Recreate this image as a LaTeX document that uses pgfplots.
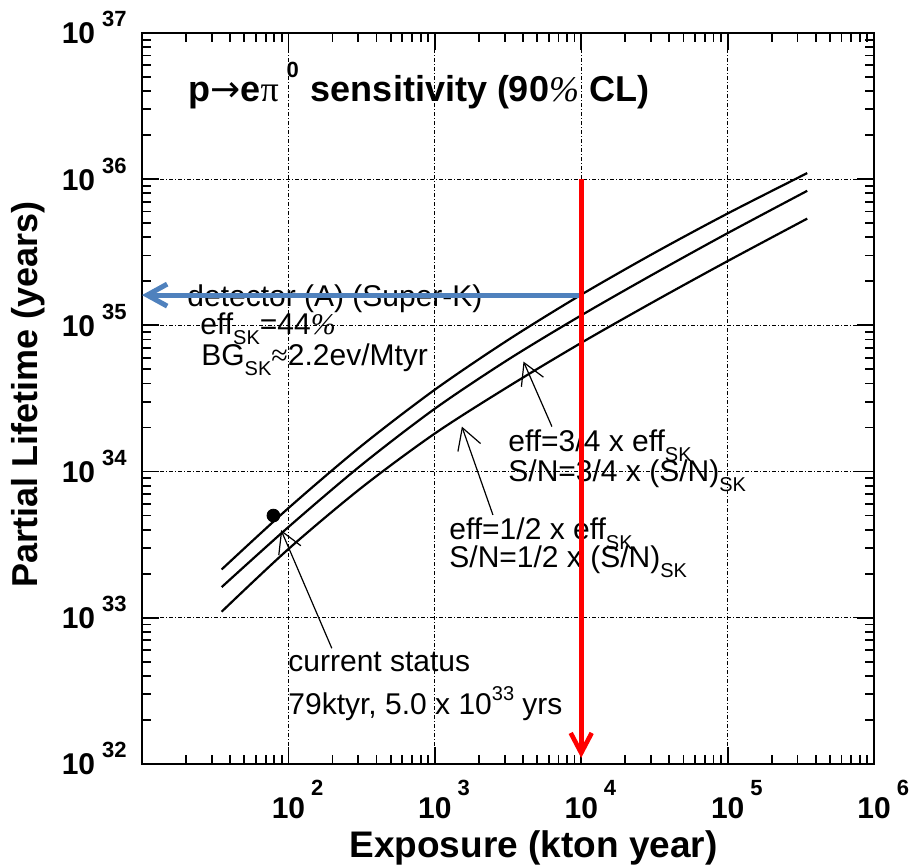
\documentclass[border=0pt]{standalone}
\usepackage{pgfplots}
\pgfplotsset{compat=1.18}
\usepackage{fontspec}
\setmainfont{Liberation Sans}
\newfontfamily\symf{Liberation Serif}
\newfontfamily\arrf{DejaVu Sans}
\usetikzlibrary{arrows.meta}
\definecolor{sblue}{RGB}{79,129,189}
\newcommand\ytl[1]{\fontsize{15}{15}\selectfont\bfseries 10\hspace{3.5pt}\raisebox{8.5pt}{\fontsize{11}{11}\selectfont #1}}
\newcommand\xtl[1]{\fontsize{15}{15}\selectfont\bfseries 10\hspace{3pt}\raisebox{11.5pt}{\fontsize{11}{11}\selectfont #1}}
\newcommand\sk{\raisebox{-5pt}{\fontsize{10}{10}\selectfont SK}}
\newcommand\pc{{\symf\itshape\%}}
\tikzset{ann/.style={black, line width=0.6pt, -{Straight Barb[length=10.5pt,width=12pt]}}}
\begin{document}
\begin{tikzpicture}
\begin{axis}[
  xmode=log, ymode=log,
  scale only axis, width=366pt, height=365.5pt,
  xmin=10, xmax=1e6, ymin=1e32, ymax=1e37,
  axis line style={line width=1.3pt},
  every tick/.style={black, line width=0.9pt},
  major tick length=8.5pt, minor tick length=4.5pt,
  xtick={10,100,1000,10000,100000,1000000},
  xticklabels={{},{\xtl{2}},{\xtl{3}},{\xtl{4}},{\xtl{5}},{\xtl{6}}},
  ytick={1e32,1e33,1e34,1e35,1e36,1e37},
  yticklabels={{\ytl{32}},{\ytl{33}},{\ytl{34}},{\ytl{35}},{\ytl{36}},{\ytl{37}}},
  xticklabel style={anchor=north, inner sep=0pt, xshift=4.6pt, yshift=-8pt},
  yticklabel style={anchor=east, inner sep=0pt, xshift=-7.5pt, yshift=2.5pt},
  grid=major,
  major grid style={black, line width=0.5pt, dash pattern=on 2pt off 1pt on 0.5pt off 1pt},
  clip=false,
]
\coordinate (SW) at (rel axis cs:0,0);
\coordinate (NE) at (rel axis cs:1,1);
% curves
\addplot[black, line width=1.1pt, smooth] coordinates {
 (35,2.14e33) (100,5.62e33) (316,1.50e34) (1000,3.63e34) (3162,7.94e34) (10000,1.62e35) (31623,3.13e35) (100000,5.82e35) (350000,1.10e36)};
\addplot[black, line width=1.1pt, smooth] coordinates {
 (35,1.62e33) (100,4.17e33) (316,1.11e34) (1000,2.69e34) (3162,5.82e34) (10000,1.17e35) (31623,2.26e35) (100000,4.27e35) (350000,8.32e35)};
\addplot[black, line width=1.1pt, smooth] coordinates {
 (35,1.10e33) (100,2.95e33) (316,7.76e33) (1000,1.82e34) (3162,3.80e34) (10000,7.59e34) (31623,1.46e35) (100000,2.75e35) (350000,5.37e35)};
% current status point
\addplot[only marks, mark=*, mark size=3.2pt, black] coordinates {(79,5.0e33)};
% texts
\node[anchor=base west, inner sep=0pt] at (rel axis cs:0.0628,0.9056)
  {\fontsize{18}{20}\selectfont\bfseries p{\arrf\mdseries →}e{\symf\mdseries π}\hspace{4pt}\raisebox{12pt}{\fontsize{11}{11}\selectfont 0}\hspace{6pt}sensitivity (90{\symf\mdseries\itshape\%} CL)};
\node[anchor=base west, inner sep=0pt] at (rel axis cs:0.0615,0.6252) {\fontsize{15}{15}\selectfont detector (A) (Super-K)};
\node[anchor=base west, inner sep=0pt] at (rel axis cs:0.0792,0.5869) {\fontsize{15}{15}\selectfont eff\sk=44\pc};
\node[anchor=base west, inner sep=0pt] at (rel axis cs:0.0806,0.5445) {\fontsize{15}{15}\selectfont BG\sk{\symf≈}2.2ev/Mtyr};
\node[anchor=base west, inner sep=0pt] at (rel axis cs:0.5,0.4268) {\fontsize{15}{15}\selectfont eff=3/4 x eff\sk};
\node[anchor=base west, inner sep=0pt] at (rel axis cs:0.5,0.3858) {\fontsize{15}{15}\selectfont S/N=3/4 x (S/N)\sk};
\node[anchor=base west, inner sep=0pt] at (rel axis cs:0.4194,0.3064) {\fontsize{15}{15}\selectfont eff=1/2 x eff\sk};
\node[anchor=base west, inner sep=0pt] at (rel axis cs:0.4194,0.2681) {\fontsize{15}{15}\selectfont S/N=1/2 x (S/N)\sk};
\node[anchor=base west, inner sep=0pt] at (rel axis cs:0.1995,0.1259) {\fontsize{15}{15}\selectfont current status};
\node[anchor=base west, inner sep=0pt] at (rel axis cs:0.1995,0.0670) {\fontsize{15}{15}\selectfont 79ktyr, 5.0 x 10\raisebox{7pt}{\fontsize{10}{10}\selectfont 33} yrs};
% axis labels
\node[anchor=base, inner sep=0pt] at (rel axis cs:0.5348,-0.1286) {\fontsize{18.5}{20}\selectfont\bfseries Exposure (kton year)};
\node[anchor=base, inner sep=0pt, rotate=90] at (rel axis cs:-0.1421,0.506) {\fontsize{18}{20}\selectfont\bfseries Partial Lifetime (years)};
% annotation arrows
\draw[ann] (axis cs:198,6.18e32) -- (axis cs:89.1,3.98e33);
\draw[ann] (axis cs:6310,2.03e34) -- (axis cs:4036,5.65e34);
\draw[ann] (axis cs:2495,5.05e33) -- (axis cs:1531,2.03e34);
\draw[sblue, line width=2.5pt, -{Straight Barb[length=10pt,width=11pt]}] (axis cs:10000,1.61e35) -- (axis cs:10,1.61e35);
\draw[red, line width=2.3pt, -{Straight Barb[length=10pt,width=10.5pt]}] (axis cs:10000,1e36) -- (axis cs:10000,1.1e32);
\end{axis}
\pgfresetboundingbox
\path[use as bounding box] ([shift={(-71pt,-51.5pt)}]SW) rectangle ([shift={(18pt,16.5pt)}]NE);
\end{tikzpicture}
\end{document}
